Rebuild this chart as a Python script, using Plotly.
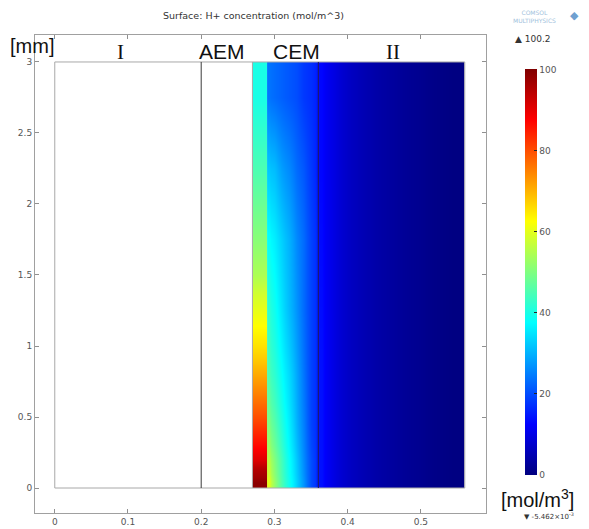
import plotly.graph_objects as go

# ---------------- data ----------------
boundaries = [0.0, 0.2, 0.27, 0.29, 0.36, 0.56]   # domain borders along x [mm]
height_mm = 3.0
region_labels = ["I", "AEM", "CEM", "II"]

# thin layer 0.27-0.29 : concentration mainly varies with height
strip_x = [0.27, 0.28, 0.29]
strip_y = [0, 0.08, 0.2, 0.4, 0.6, 0.8, 1.0, 1.25, 1.5, 2.0, 2.5, 3.0]
strip_z = [
    [99, 99], [95, 95], [87, 87], [80, 80], [74, 74], [68, 68],
    [63, 63], [58, 58], [51, 51], [45, 45], [40, 40],
]

# CEM 0.29-0.36
cem_x = [0.29, 0.295, 0.305, 0.315, 0.325, 0.335, 0.345, 0.355, 0.36]
cem_y = [0, 0.1, 0.3, 0.6, 1.0, 1.5, 2.0, 2.5, 3.0]
cem_z = [
    [60, 52, 45, 39, 33, 27, 20, 16],
    [56, 50, 44, 38, 32, 26, 20, 16],
    [50, 46, 41, 36, 30, 25, 19, 16],
    [45, 42, 38, 34, 29, 24, 19, 16],
    [42, 39, 35, 31, 27, 23, 19, 16],
    [38, 36, 33, 30, 26, 23, 19, 16],
    [32, 31, 28, 26, 23, 21, 18, 15],
    [24, 23, 22, 21, 20, 18, 17, 15],
]

# region II 0.36-0.56
ii_x = [0.36, 0.37, 0.39, 0.42, 0.46, 0.50, 0.53, 0.56]
ii_y = [0, 1.5, 3.0]
ii_z = [
    [14, 10, 6.5, 4, 2.2, 1, 0.3],
    [13, 10, 6.5, 4, 2.2, 1, 0.3],
]

c_min = -5.462e-3
c_max = 100.2
x_ticks = [0, 0.1, 0.2, 0.3, 0.4, 0.5]
y_ticks = [0, 0.5, 1, 1.5, 2, 2.5, 3]
y_tick_text = ["0", "0.5", "1", "1.5", "2", "2.5", "3"]
cb_ticks = [0, 20, 40, 60, 80, 100]

# ---------------- layout geometry (pixels) ----------------
W, H = 589, 529
ML, MR, MT, MB = 35, 1, 35, 16
PLOT_R = 486                       # right edge of the axes frame
PW = W - ML - MR                   # paper width
PH = H - MT - MB
x_dom = (PLOT_R - ML) / PW


def px_x(px):
    return (px - ML) / PW


def px_y(py):
    return (H - MB - py) / PH


jet = [
    [0.0, "#00007f"], [0.125, "#0000ff"], [0.375, "#00ffff"],
    [0.625, "#ffff00"], [0.875, "#ff0000"], [1.0, "#7f0000"],
]

fig = go.Figure()
for xs, ys, zs in [(strip_x, strip_y, strip_z), (cem_x, cem_y, cem_z), (ii_x, ii_y, ii_z)]:
    fig.add_trace(go.Heatmap(x=xs, y=ys, z=zs, coloraxis="coloraxis",
                             zsmooth="best", hoverinfo="skip", showscale=False))

x0, x1 = boundaries[0], boundaries[-1]
fig.add_trace(go.Scatter(x=[x0, x1, x1, x0, x0], y=[0, 0, height_mm, height_mm, 0],
                         mode="lines", line=dict(color="#a8a8a8", width=1),
                         hoverinfo="skip", showlegend=False))
for b, col in [(boundaries[1], "#3a3a3a"), (boundaries[2], "#a8a8a8"), (boundaries[4], "#10105a")]:
    fig.add_trace(go.Scatter(x=[b, b], y=[0, height_mm], mode="lines",
                             line=dict(color=col, width=1),
                             hoverinfo="skip", showlegend=False))

axis_common = dict(showline=True, linecolor="#a0a0a0", linewidth=1, mirror="ticks",
                   ticks="inside", ticklen=4, tickcolor="#909090",
                   showgrid=False, zeroline=False, automargin=False,
                   tickfont=dict(family="DejaVu Sans", size=9, color="#555555"))

fig.update_layout(
    width=W, height=H,
    margin=dict(l=ML, r=MR, t=MT, b=MB, autoexpand=False),
    paper_bgcolor="white", plot_bgcolor="white",
    showlegend=False,
    xaxis=dict(domain=[0, x_dom], range=[-0.027, 0.589], tickvals=x_ticks,
               ticktext=[str(v) for v in x_ticks], **axis_common),
    yaxis=dict(domain=[0, 1], range=[-0.176, 3.19], tickvals=y_ticks,
               ticktext=y_tick_text, **axis_common),
    coloraxis=dict(
        cmin=c_min, cmax=c_max, colorscale=jet,
        colorbar=dict(
            x=px_x(525), xanchor="left", y=px_y(272), yanchor="middle",
            len=(475 - 69) / PH, lenmode="fraction", thickness=12, thicknessmode="pixels",
            xpad=0, ypad=0, outlinewidth=0,
            tickvals=cb_ticks, ticks="inside", ticklen=3, tickcolor="#222222",
            tickfont=dict(family="DejaVu Sans", size=9, color="#555555"),
        ),
    ),
)

ann = []
ann.append(dict(text="Surface: H+ concentration (mol/m^3)", x=253, y=15,
                font=dict(family="DejaVu Sans", size=9.5, color="#333333")))
ann.append(dict(text="[mm]", x=32, y=46,
                font=dict(family="Liberation Sans", size=20, color="#111111")))
label_px = [120, 222, 296, 393]
label_font = ["Liberation Serif", "Liberation Sans", "Liberation Sans", "Liberation Serif"]
for t, px, fam in zip(region_labels, label_px, label_font):
    ann.append(dict(text=t, x=px, y=52, font=dict(family=fam, size=21, color="#111111")))
ann.append(dict(text="▲ 100.2", x=533, y=39,
                font=dict(family="DejaVu Sans", size=9, color="#333333")))
ann.append(dict(text="▼ -5.462×10<sup>-3</sup>", x=549, y=516,
                font=dict(family="DejaVu Sans", size=7, color="#333333")))
ann.append(dict(text="[mol/m<sup>3</sup>]", x=537, y=498,
                font=dict(family="Liberation Sans", size=20, color="#111111")))
ann.append(dict(text="COMSOL<br>MULTIPHYSICS", x=534, y=17,
                font=dict(family="DejaVu Sans", size=6, color="#9fbfdc")))
ann.append(dict(text="◆", x=574, y=16,
                font=dict(family="DejaVu Sans", size=11, color="#6fa0d0")))

for a in ann:
    px, py = a.pop("x"), a.pop("y")
    fig.add_annotation(x=px_x(px), y=px_y(py),
                       xref="paper", yref="paper", xanchor="center", yanchor="middle",
                       showarrow=False, **a)

fig.write_html("out.html",
               config={"displayModeBar": False},
               post_script="document.body.style.margin='0';"
                           "document.body.style.overflow='hidden';")
